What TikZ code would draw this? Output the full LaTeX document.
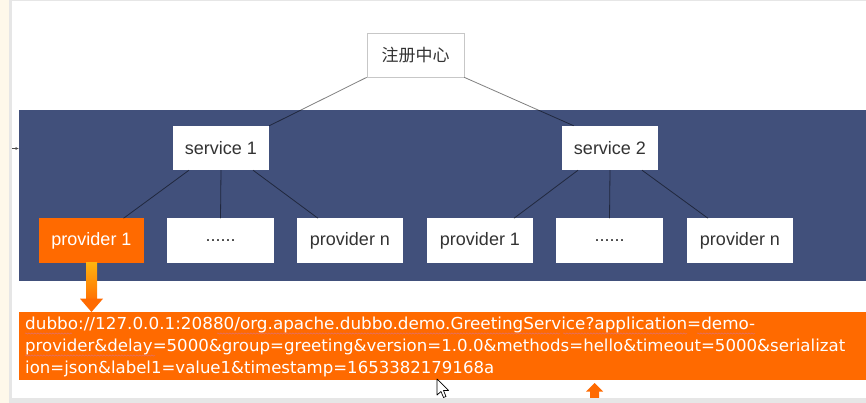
\documentclass[tikz,border=0pt]{standalone}
\usepackage{fontspec}
\setmainfont{Liberation Sans}
\newfontfamily\cjk{Noto Sans CJK SC}
\newfontfamily\urlfont{DejaVu Sans}
\usetikzlibrary{arrows.meta,decorations.pathmorphing,calc}
\definecolor{band}{HTML}{41507B}
\definecolor{org}{HTML}{FF6A00}
\definecolor{gold}{HTML}{FFB30F}
\definecolor{cream}{HTML}{FEF8EA}
\definecolor{edgegray}{HTML}{E6E6E6}
\definecolor{txt}{HTML}{333333}
\definecolor{squig}{HTML}{E07070}
\tikzset{
  wbox/.style={fill=white, inner sep=0pt, minimum height=44pt, text=txt, font=\fontsize{18}{20}\selectfont},
  obox/.style={wbox, fill=org, text=white},
  link/.style={draw=black, draw opacity=0.5, line width=0.8pt},
  urlline/.style={anchor=base west, inner sep=0pt, text=white, font=\urlfont\fontsize{16.5}{18}\selectfont},
  squiggle/.style={draw=squig, line width=0.5pt, decorate, decoration={snake, amplitude=0.6pt, segment length=3pt}}
}
\begin{document}
\begin{tikzpicture}[x=1pt,y=-1pt]
\useasboundingbox (0,0) rectangle (866,403);
% screenshot frame
\fill[white] (0,0) rectangle (866,403);
\fill[cream] (0,0) rectangle (9,403);
\fill[edgegray] (9,0) rectangle (12,403);
\fill[edgegray] (12,0) rectangle (866,1.2);
% band
\fill[band] (19,110) rectangle (866,281);
% nodes
\node[wbox, draw=black!22, line width=0.8pt, minimum width=97pt, font=\cjk\fontsize{17}{20}\selectfont] (reg) at (415.5,55) {注册中心};
\node[wbox, minimum width=96pt] (s1) at (221,148) {service 1};
\node[wbox, minimum width=96pt] (s2) at (610,148) {service 2};
\node[obox, minimum width=105pt] (p1) at (91.5,240.5) {provider 1};
\node[wbox, minimum width=107pt] (d1) at (220.5,240.5) {......};
\node[wbox, minimum width=106pt] (pn1) at (350,240.5) {provider n};
\node[wbox, minimum width=106pt] (p2) at (480,240.5) {provider 1};
\node[wbox, minimum width=107pt] (d2) at (609.5,240.5) {......};
\node[wbox, minimum width=106pt] (pn2) at (740,240.5) {provider n};
% connectors
\draw[link] (reg.south west) -- (s1.north east);
\draw[link] (reg.south east) -- ([xshift=12pt]s2.north west);
\draw[link] ([xshift=-32pt]s1.south) -- ([xshift=32pt]p1.north);
\draw[link] (s1.south) -- (d1.north);
\draw[link] ([xshift=32pt]s1.south) -- ([xshift=-32pt]pn1.north);
\draw[link] ([xshift=-32pt]s2.south) -- ([xshift=34pt]p2.north);
\draw[link] (s2.south) -- (d2.north);
\draw[link] ([xshift=32pt]s2.south) -- ([xshift=-32pt]pn2.north);
% left marker
\coordinate (mk0) at (12,148.5);
\coordinate (mk1) at (19,148.5);
\draw[black!70, line width=0.7pt, -{Latex[length=3.5pt,width=3pt]}] (mk0) -- (mk1);
% url box
\node[fill=org, minimum width=847pt, minimum height=68pt, inner sep=0pt, anchor=north west] (url) at (19,312) {};
\node[urlline] (l1) at (25,329.5) {\resizebox{730pt}{\height}{dubbo://127.0.0.1:20880/org.apache.dubbo.demo.GreetingService?application=demo-}};
\node[urlline] (l2) at (25,351.5) {\resizebox{820pt}{\height}{provider\&delay=5000\&group=greeting\&version=1.0.0\&methods=hello\&timeout=5000\&serializat}};
\node[urlline] (l3) at (25,373.5) {\resizebox{469pt}{\height}{ion=json\&label1=value1\&timestamp=1653382179168a}};
% spell-check squiggles
\draw[squiggle] (25,333.5) -- (72,333.5);
\draw[squiggle] (217,333.5) -- (560,333.5);
\draw[squiggle] (563,333.5) -- (687,333.5);
\draw[squiggle] (697,333.5) -- (755,333.5);
\draw[squiggle] (25,355.5) -- (155,355.5);
% down arrow from provider 1
\shade[top color=gold, bottom color=org!90!gold] ($(p1.south)+(-5.5,0)$) rectangle ($(p1.south)+(5.5,37)$);
\fill[org] ($(p1.south)+(-11.5,36)$) -- ($(p1.south)+(11.5,36)$) -- (p1.south |- url.north) -- cycle;
% up arrow at bottom
\coordinate (upt) at (594.5,383);
\fill[org] (upt) -- ($(upt)+(8.5,8.5)$) -- ($(upt)+(4.5,8.5)$) -- ($(upt)+(4.5,16)$) -- ($(upt)+(-4.5,16)$) -- ($(upt)+(-4.5,8.5)$) -- ($(upt)+(-8.5,8.5)$) -- cycle;
% bottom frame band
\fill[edgegray] (12,398) rectangle (866,403);
% mouse cursor
\coordinate (cur) at (437,379);
\draw[fill=white, draw=black, line width=0.7pt, line join=round]
  (cur) -- ($(cur)+(0,16)$) -- ($(cur)+(4,12.5)$) -- ($(cur)+(6.5,18.5)$) -- ($(cur)+(9,17.5)$) -- ($(cur)+(6.5,11.5)$) -- ($(cur)+(11.5,11.5)$) -- cycle;
\end{tikzpicture}
\end{document}
